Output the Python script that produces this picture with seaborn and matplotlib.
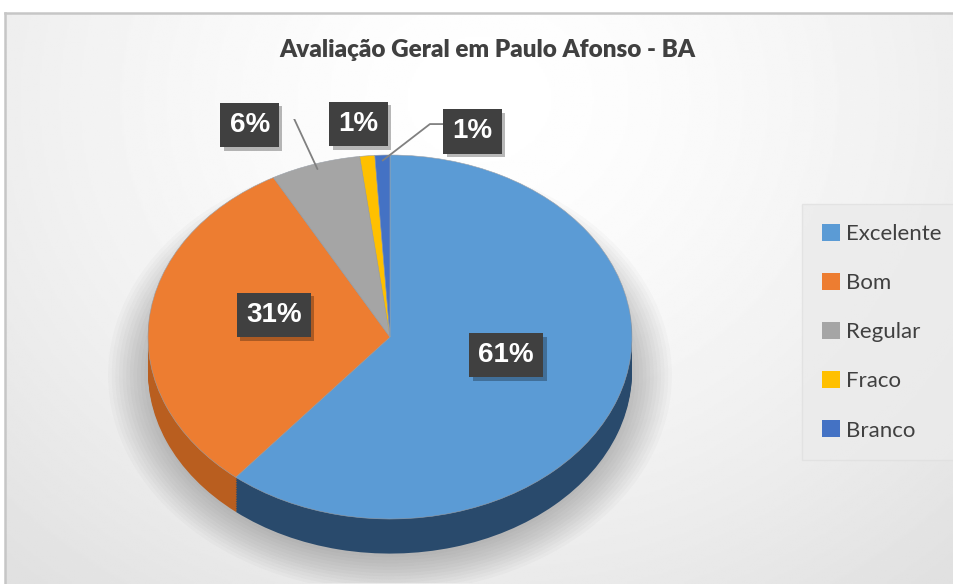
import numpy as np
import matplotlib
matplotlib.use("Agg")
import matplotlib.pyplot as plt
import matplotlib.patheffects as pe
import seaborn as sns
from matplotlib.patches import Ellipse

# data
categories = ['Excelente', 'Bom', 'Regular', 'Fraco', 'Branco']
values = [61, 31, 6, 1, 1]
colors = ['#5B9BD5', '#ED7D31', '#A5A5A5', '#FFC000', '#4472C4']
side_colors = ['#294A6C', '#B95E1F', '#6E6E6E', '#B88A00', '#2D4D87']

# label placement (layout, in pie units)
label_pos = [(0.48, -0.10), (-0.48, 0.12), (-0.58, 1.165), (-0.13, 1.17), (0.34, 1.13)]
elbow_pos = [None, None, (-0.40, 1.21), None, (0.165, 1.17)]
box_edge = [None, None, (-0.455, 1.21), None, (0.22, 1.17)]

sns.set_theme(style="white")
plt.rcParams['font.family'] = ['Lato', 'DejaVu Sans']

W, H = 954, 584
fig = plt.figure(figsize=(W / 100, H / 100), dpi=100)
fig.patch.set_facecolor('white')

# chart area background with soft gradient
bg = fig.add_axes([5 / W, 0, 1 - 5 / W, (H - 13) / H])
yy, xx = np.mgrid[0:1:300j, 0:1:500j]
r = np.sqrt(((xx - 0.5) / 0.75) ** 2 + ((yy - 0.15) / 1.1) ** 2)
shade = 1.0 - 0.12 * np.clip(r, 0, 1) ** 1.5
bg.imshow(shade, cmap='gray', vmin=0, vmax=1, aspect='auto', extent=[0, 1, 1, 0])
bg.set_xlim(0, 1)
bg.set_ylim(1, 0)
bg.set_xticks([])
bg.set_yticks([])
for s in ['right', 'bottom']:
    bg.spines[s].set_visible(False)
for s in ['left', 'top']:
    bg.spines[s].set_color('#C6C6C6')
    bg.spines[s].set_linewidth(1.8)

# pie axes: 1 unit = 242 px horizontally, 182 px vertically
cx, cy, rx, ry = 390, 337, 242, 182
xlo, xhi, ylo, yhi = -1.2, 1.2, -1.35, 1.2
left = cx + xlo * rx
bottom = H - (cy - ylo * ry)
ax = fig.add_axes([left / W, bottom / H, (xhi - xlo) * rx / W, (yhi - ylo) * ry / H])
ax.patch.set_alpha(0)

depth = 0.19

# soft shadow
for k in range(12):
    ax.add_patch(Ellipse((0, -depth - 0.02), 2.0 + 0.03 * k, 2.0 + 0.035 * k,
                         facecolor='#000000', alpha=0.018, edgecolor='none', zorder=0))

# side of the 3D pie
for i in range(20, 0, -1):
    ax.pie(values, colors=side_colors, startangle=90, counterclock=False,
           center=(0, -depth * i / 20), radius=1.0,
           wedgeprops=dict(linewidth=0, zorder=1))

wedges, _ = ax.pie(values, colors=colors, startangle=90, counterclock=False,
                   radius=1.0, wedgeprops=dict(linewidth=0.4, edgecolor='#9aa0a8', zorder=2))

ax.set_aspect('auto')
ax.set_xlim(xlo, xhi)
ax.set_ylim(ylo, yhi)
ax.axis('off')

# labels
for i, (w, v) in enumerate(zip(wedges, values)):
    lx, ly = label_pos[i]
    t = ax.text(lx, ly, f"{v}%", ha='center', va='center', fontsize=20, fontweight='bold',
                color='white', family='Liberation Sans', zorder=5,
                bbox=dict(boxstyle='square,pad=0.33', fc='#404040', ec='none'))
    t.get_bbox_patch().set_path_effects(
        [pe.SimplePatchShadow(offset=(2.5, -2.5), shadow_rgbFace='#000000', alpha=0.28),
         pe.Normal()])
    if elbow_pos[i] is not None:
        ang = np.deg2rad((w.theta1 + w.theta2) / 2)
        px, py = np.cos(ang) * 0.97, np.sin(ang) * 0.97
        ex, ey = elbow_pos[i]
        bx, by = box_edge[i]
        ax.plot([px, ex, bx], [py, ey, by], color='#808080', lw=1.3, zorder=3)

# title
fig.text(487 / W, 1 - 50 / H, 'Avaliação Geral em Paulo Afonso - BA', ha='center',
         va='center', fontsize=17.5, fontweight='heavy', color='#404040')

# legend
leg = fig.legend(wedges, categories, loc='upper left',
                 bbox_to_anchor=(809 / W, 1 - 211 / H), frameon=True,
                 fontsize=16, handlelength=0.8, handleheight=0.8, handletextpad=0.3,
                 labelspacing=1.3, borderpad=0.58, borderaxespad=0)
leg.get_frame().set_facecolor('#EBEBEB')
leg.get_frame().set_edgecolor('#E0E0E0')
leg.get_frame().set_boxstyle('square')
for t in leg.get_texts():
    t.set_color('#404040')
for h in leg.legend_handles:
    h.set_linewidth(0)

fig.savefig('out.png', dpi=100, facecolor='white')
